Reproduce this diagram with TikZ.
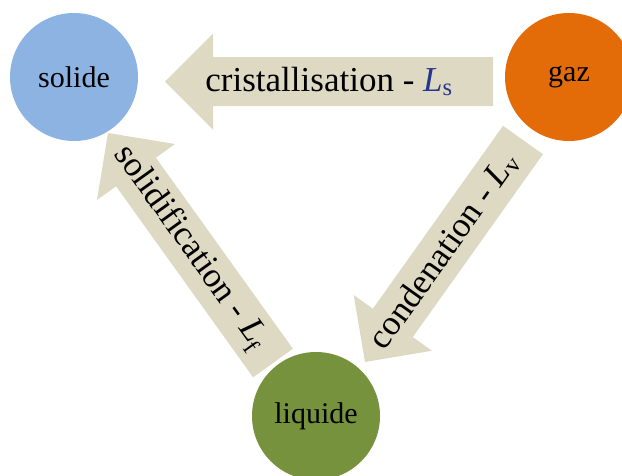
\documentclass[tikz,border=0pt]{standalone}
\usepackage{fontspec}
\setmainfont{Liberation Serif}
\usetikzlibrary{calc}
\definecolor{solidblue}{HTML}{8DB3E2}
\definecolor{gazorange}{HTML}{E36C09}
\definecolor{liqgreen}{HTML}{76923C}
\definecolor{arrowfill}{HTML}{DDD9C3}
\definecolor{lsblue}{HTML}{26368C}
\newcommand{\phasearrow}[3]{%
  \coordinate (hb) at ($(#2)!48pt!(#1)$);
  \fill[arrowfill] ($(#1)!24.5pt!90:(#2)$) -- ($(hb)!24.5pt!90:(#2)$)
    -- ($(hb)!48pt!90:(#2)$) -- (#2) -- ($(hb)!48pt!-90:(#2)$)
    -- ($(hb)!24.5pt!-90:(#2)$) -- ($(#1)!24.5pt!-90:(#2)$) -- cycle;
  \path (#1) -- node[arrowlabel] {#3} (#2);
}
\begin{document}
\begin{tikzpicture}[x=1pt,y=-1pt,
  phase/.style={circle, minimum size=128pt, inner sep=0pt,
    font=\fontsize{30}{36}\selectfont, text=black},
  arrowlabel/.style={sloped, inner sep=0pt, font=\fontsize{35}{42}\selectfont}]
\useasboundingbox (0,0) rectangle (622,475);
\begin{scope}
\clip (0,0) rectangle (622,475);
\node[phase, fill=solidblue] (solide) at (74,77) {solide};
\node[phase, fill=gazorange] (gaz) at (569,77) {gaz};
\node[phase, fill=liqgreen] (liquide) at (316,416) {liquide};
\coordinate (cT) at (493,81.5);
\coordinate (cP) at (165,81.5);
\coordinate (sT) at (273,363);
\coordinate (sP) at (108,133);
\coordinate (vT) at (523,140);
\coordinate (vP) at (365,362);
\phasearrow{cT}{cP}{cristallisation - {\color{lsblue}\textit{L}\textsubscript{s}}}
\phasearrow{sT}{sP}{solidification - \textit{L}\textsubscript{f}}
\phasearrow{vT}{vP}{condenation - \textit{L}\textsubscript{v}}
\end{scope}
\end{tikzpicture}
\end{document}
